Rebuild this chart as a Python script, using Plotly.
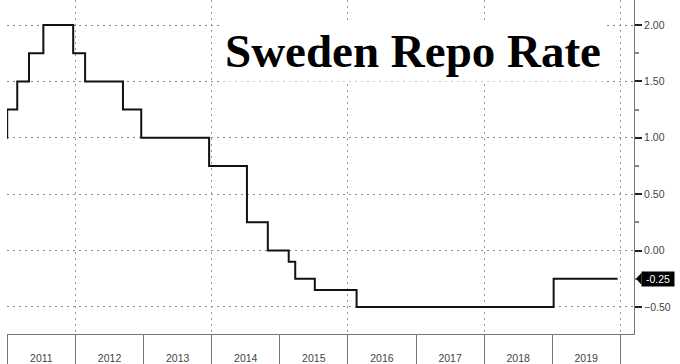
import plotly.graph_objects as go

# Sweden repo rate (step series)
dates = ["2010-12-01", "2010-12-31", "2011-02-23", "2011-04-27", "2011-07-13",
         "2011-12-20", "2012-02-22", "2012-09-12", "2012-12-19", "2013-12-18",
         "2014-07-09", "2014-10-29", "2015-02-18", "2015-03-25", "2015-07-08",
         "2016-02-17", "2019-01-09", "2019-12-18"]
rates = [1.00, 1.25, 1.50, 1.75, 2.00,
         1.75, 1.50, 1.25, 1.00, 0.75,
         0.25, 0.00, -0.10, -0.25, -0.35,
         -0.50, -0.25, -0.25]

title_text = "Sweden Repo Rate"
x_range = ["2010-12-30", "2020-03-15"]
y_range = [-0.74, 2.222]

fig = go.Figure()
fig.add_trace(go.Scatter(
    x=dates, y=rates, mode="lines", line_shape="hv",
    line=dict(color="#111111", width=2), hoverinfo="skip", showlegend=False,
))
# invisible companion trace so the 2-year grid axis is drawn
fig.add_trace(go.Scatter(
    x=dates, y=rates, mode="lines", line=dict(width=0), xaxis="x2",
    hoverinfo="skip", showlegend=False,
))

axis_font = dict(family="Liberation Sans, Arial, sans-serif", size=10.5, color="#444444")

fig.update_layout(
    width=680, height=364,
    margin=dict(l=7, r=46, t=0, b=30),
    paper_bgcolor="white", plot_bgcolor="white",
    xaxis=dict(
        type="date", range=x_range, dtick="M12", tick0="2011-01-01",
        tickformat="%Y", ticklabelmode="period", automargin=False,
        ticks="outside", ticklen=30, tickwidth=1, tickcolor="#777777",
        ticklabelstandoff=-16,
        showline=True, linecolor="#777777", linewidth=1,
        showgrid=False, zeroline=False, tickfont=axis_font,
    ),
    xaxis2=dict(
        type="date", range=x_range, dtick="M24", tick0="2012-01-01",
        overlaying="x", matches="x", showticklabels=False, ticks="",
        showgrid=True, gridcolor="#9a9a9a", griddash="2px,4px", gridwidth=1,
        zeroline=False, showline=False, automargin=False,
    ),
    yaxis=dict(
        side="right", range=y_range, dtick=0.5, tick0=0, tickformat=".2f",
        ticks="outside", ticklen=7, tickwidth=2, tickcolor="#222222",
        showline=True, linecolor="#777777", linewidth=1, automargin=False,
        showgrid=True, gridcolor="#8a8a8a", griddash="2px,4px", gridwidth=1,
        zeroline=False, tickfont=axis_font,
        minor=dict(dtick=0.25, ticks="outside", ticklen=4, tickcolor="#888888",
                   showgrid=False),
    ),
)

# Title box
fig.add_annotation(
    text=title_text, xref="paper", yref="paper", x=0.647, y=0.847,
    xanchor="center", yanchor="middle", showarrow=False,
    font=dict(family="Liberation Serif, Times New Roman, serif", size=47,
              color="#000000", weight="bold"),
    bgcolor="white", borderpad=4,
)

# Last-value label
last_val = rates[-1]
fig.add_annotation(
    text=" %.2f " % last_val, xref="paper", yref="y", x=1, y=last_val,
    xanchor="left", yanchor="middle", xshift=7, showarrow=False,
    font=dict(family="Liberation Sans, Arial, sans-serif", size=10.5, color="white"),
    bgcolor="#000000", borderpad=1,
)
fig.add_shape(
    type="path", xref="paper", yref="y", xsizemode="pixel", ysizemode="pixel",
    xanchor=1, yanchor=last_val, path="M 2,0 L 7.5,6 L 7.5,-6 Z",
    fillcolor="#000000", line=dict(width=0),
)

fig.write_html("out.html", config={"displayModeBar": False},
               post_script="document.body.style.margin='0';")
